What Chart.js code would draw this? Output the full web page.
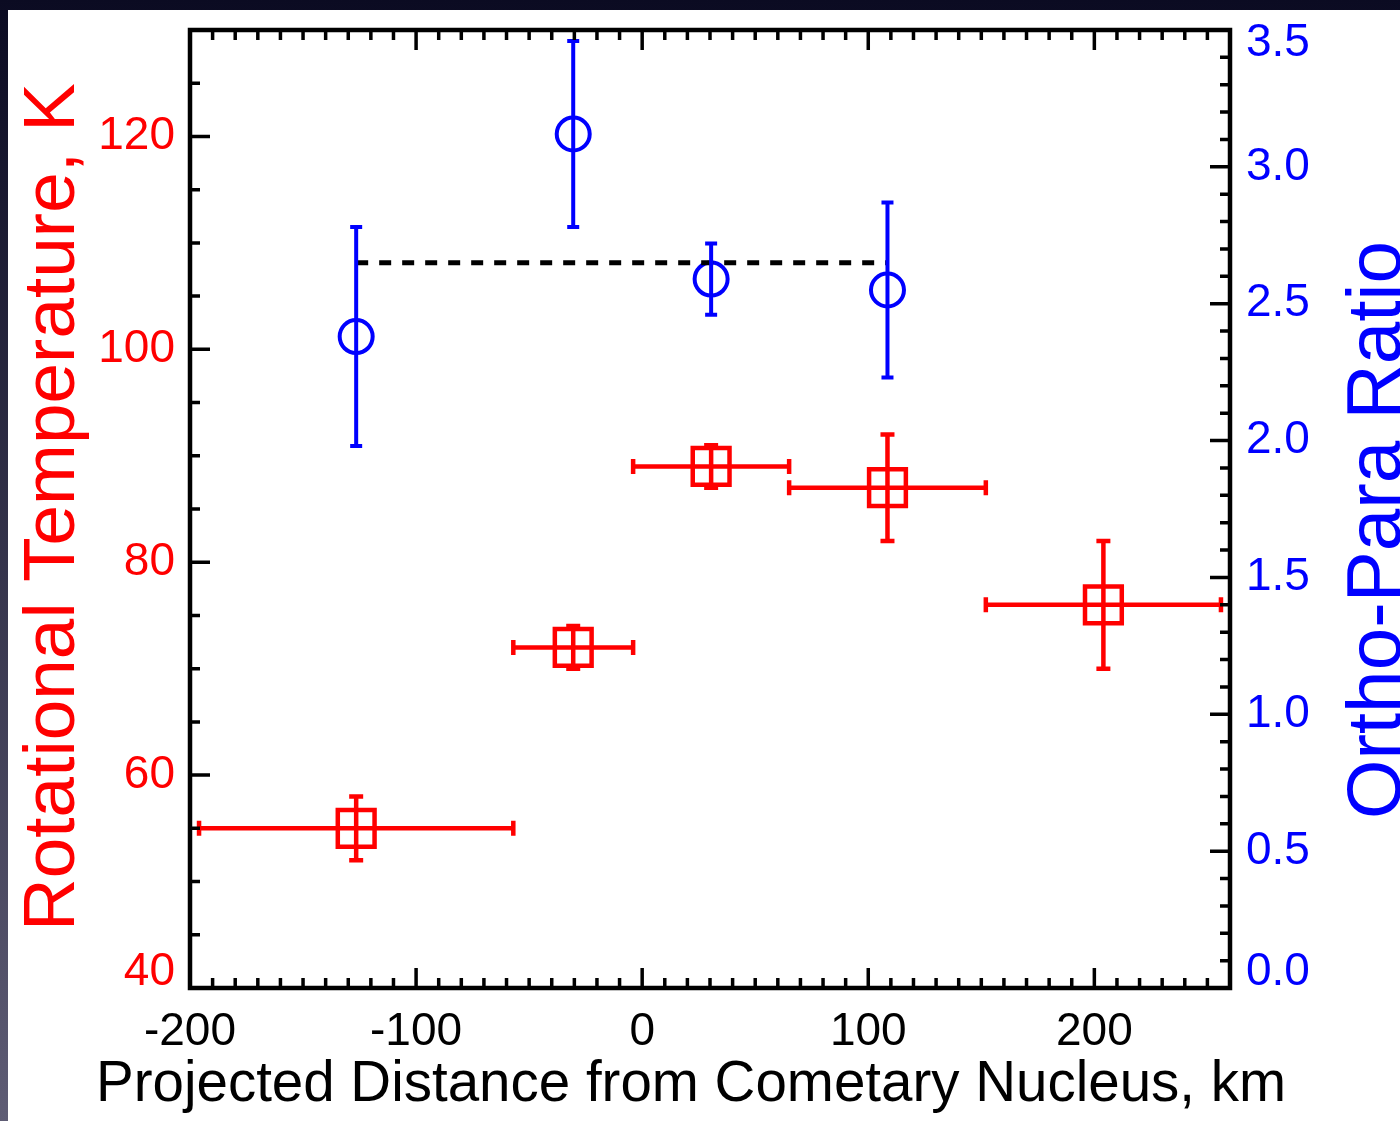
<!DOCTYPE html>
<html>
<head>
<meta charset="utf-8">
<script src="https://cdn.jsdelivr.net/npm/chart.js"></script>
<style>
html, body {
margin:0;
width:1400px;
height:1121px;
overflow:hidden;
background:linear-gradient(#0b0b22, #5e5c74);
}
#wrap {
position:absolute;
left:8px;
top:10px;
width:1392px;
height:1111px;
background:#fff;
}
canvas { display:block; }
</style>
</head>
<body>
<div id="wrap"><canvas id="chart" width="1392" height="1111"></canvas></div>
<script>
// red squares: rotational temperature in each distance bin
const binLow = [-196, -57, -4, 65, 152];
const binHigh = [-57, -4, 65, 152, 256];
const distance = [-126.5, -30.5, 30.5, 108.5, 204];
const temperature = [55, 72, 89, 87, 76];
const temperatureErr = [3, 2, 2, 5, 6];

// blue circles: ortho-para ratio
const oprDistance = [-126.5, -30.5, 30.5, 108.5];
const opr = [2.38, 3.12, 2.59, 2.55];
const oprErr = [0.40, 0.34, 0.13, 0.32];

// dashed mean line
const meanDistance = [-126.5, 108.5];
const meanOpr = [2.65, 2.65];

// ticks
const xTicks = [-200, -100, 0, 100, 200];
const leftTicks = [40, 60, 80, 100, 120];
const rightTicks = [0, 0.5, 1.0, 1.5, 2.0, 2.5, 3.0, 3.5];
const xMinor = 10;
const leftMinor = 5;
const rightMinor = 0.1;

const FONT = "'Liberation Sans', Arial, Helvetica, sans-serif";

function setTicks(list){
return scale => { scale.ticks = list.map(v => ({value:v})); };
}

function fixSize(key, size){
return s => {
s[key] = size;
s.paddingTop = 0; s.paddingBottom = 0;
s.paddingLeft = 0; s.paddingRight = 0;
};
}

const errorBars = {
id:"errorBars",
afterDatasetsDraw(chart){
const ctx = chart.ctx;
const x = chart.scales.x;
const yl = chart.scales.y;
const yr = chart.scales.y2;
ctx.save();
ctx.lineCap = "butt";

ctx.strokeStyle = "#ff0000";
ctx.lineWidth = 4.5;
distance.forEach((d, i) => {
const px = x.getPixelForValue(d);
const py = yl.getPixelForValue(temperature[i]);
const x0 = x.getPixelForValue(binLow[i]);
const x1 = x.getPixelForValue(binHigh[i]);
const y0 = yl.getPixelForValue(temperature[i] - temperatureErr[i]);
const y1 = yl.getPixelForValue(temperature[i] + temperatureErr[i]);
ctx.beginPath();
ctx.moveTo(x0, py); ctx.lineTo(x1, py);
ctx.moveTo(x0, py - 7.5); ctx.lineTo(x0, py + 7.5);
ctx.moveTo(x1, py - 7.5); ctx.lineTo(x1, py + 7.5);
ctx.moveTo(px, y0); ctx.lineTo(px, y1);
ctx.moveTo(px - 7, y0); ctx.lineTo(px + 7, y0);
ctx.moveTo(px - 7, y1); ctx.lineTo(px + 7, y1);
ctx.stroke();
});

ctx.strokeStyle = "#0000ff";
ctx.lineWidth = 4;
oprDistance.forEach((d, i) => {
const px = x.getPixelForValue(d);
const y0 = yr.getPixelForValue(opr[i] - oprErr[i]);
const y1 = yr.getPixelForValue(opr[i] + oprErr[i]);
ctx.beginPath();
ctx.moveTo(px, y0); ctx.lineTo(px, y1);
ctx.moveTo(px - 6, y0); ctx.lineTo(px + 6, y0);
ctx.moveTo(px - 6, y1); ctx.lineTo(px + 6, y1);
ctx.stroke();
});
ctx.restore();
}
};

const frame = {
id:"frame",
afterDraw(chart){
const ctx = chart.ctx;
const a = chart.chartArea;
const x = chart.scales.x;
const yl = chart.scales.y;
const yr = chart.scales.y2;
ctx.save();
ctx.strokeStyle = "#000";
ctx.lineWidth = 3.5;
ctx.beginPath();
for(let v = x.min; v <= x.max + 1e-9; v += xMinor){
const px = x.getPixelForValue(v);
const len = xTicks.includes(v) ? 20 : 10;
ctx.moveTo(px, a.bottom); ctx.lineTo(px, a.bottom - len);
ctx.moveTo(px, a.top); ctx.lineTo(px, a.top + len);
}
for(let v = yl.min; v <= yl.max + 1e-9; v += leftMinor){
const py = yl.getPixelForValue(v);
const len = leftTicks.includes(v) ? 20 : 10;
ctx.moveTo(a.left, py); ctx.lineTo(a.left + len, py);
}
for(let k = 0; k <= Math.round((yr.max - yr.min) / rightMinor); k++){
const v = Math.round((yr.min + k * rightMinor) * 10) / 10;
const py = yr.getPixelForValue(v);
const len = rightTicks.includes(v) ? 20 : 10;
ctx.moveTo(a.right, py); ctx.lineTo(a.right - len, py);
}
ctx.stroke();

ctx.lineWidth = 4.5;
ctx.strokeRect(a.left, a.top, a.right - a.left, a.bottom - a.top);

const midY = (a.top + a.bottom) / 2;
ctx.textAlign = "center";
ctx.textBaseline = "alphabetic";

ctx.fillStyle = "#ff0000";
ctx.font = "73px " + FONT;
ctx.save();
ctx.translate(a.left - 116, midY - 2);
ctx.rotate(-Math.PI / 2);
ctx.fillText("Rotational Temperature, K", 0, 0);
ctx.restore();

ctx.fillStyle = "#0000ff";
ctx.font = "76.5px " + FONT;
ctx.save();
ctx.translate(a.right + 170, midY + 21);
ctx.rotate(-Math.PI / 2);
ctx.fillText("Ortho-Para Ratio", 0, 0);
ctx.restore();

ctx.fillStyle = "#000";
ctx.font = "56.5px " + FONT;
ctx.fillText("Projected Distance from Cometary Nucleus, km", 683, a.bottom + 113);
ctx.restore();
}
};

function edgeFont(shift){
return ctx => {
const v = ctx.tick ? ctx.tick.value : null;
if(shift[v] !== undefined){
return {family:FONT, size:46, lineHeight:shift[v] * 2 / 46};
}
return {family:FONT, size:46};
};
}

new Chart(document.getElementById("chart"), {
type:"scatter",
data:{
datasets:[
{
label:"Mean OPR",
type:"line",
data:meanDistance.map((d, i) => ({x:d, y:meanOpr[i]})),
yAxisID:"y2",
borderColor:"#000",
borderWidth:5,
borderDash:[12, 11],
pointRadius:0,
fill:false
},
{
label:"Ortho-Para Ratio",
data:oprDistance.map((d, i) => ({x:d, y:opr[i]})),
yAxisID:"y2",
pointStyle:"circle",
pointRadius:16.5,
borderWidth:4,
borderColor:"#0000ff",
backgroundColor:"rgba(0,0,0,0)"
},
{
label:"Rotational Temperature",
data:distance.map((d, i) => ({x:d, y:temperature[i]})),
yAxisID:"y",
pointStyle:"rect",
pointRadius:26,
borderWidth:4.5,
borderColor:"#ff0000",
backgroundColor:"rgba(0,0,0,0)"
}
]
},
options:{
responsive:false,
animation:false,
devicePixelRatio:1,
layout:{autoPadding:false, padding:{top:20, left:0, right:0, bottom:0}},
plugins:{legend:{display:false}, tooltip:{enabled:false}},
scales:{
x:{
type:"linear",
position:"bottom",
min:-200,
max:260,
afterBuildTicks:setTicks(xTicks),
afterFit:fixSize("height", 133),
grid:{display:false, drawTicks:false},
border:{display:false},
ticks:{color:"#000", font:{family:FONT, size:46}, padding:17, maxRotation:0}
},
y:{
type:"linear",
position:"left",
min:40,
max:130,
afterBuildTicks:setTicks(leftTicks),
afterFit:fixSize("width", 182),
grid:{display:false, drawTicks:false},
border:{display:false},
ticks:{
color:"#ff0000",
padding:15,
font:edgeFont({40:16}),
callback:v => v === 40 ? ["40", ""] : String(v)
}
},
y2:{
type:"linear",
position:"right",
min:0,
max:3.5,
afterBuildTicks:setTicks(rightTicks),
afterFit:fixSize("width", 170),
grid:{display:false, drawTicks:false},
border:{display:false},
ticks:{
color:"#0000ff",
padding:16,
font:edgeFont({0:16, 3.5:13}),
callback:v => v === 0 ? ["0.0", ""] : v === 3.5 ? ["", "3.5"] : v.toFixed(1)
}
}
}
},
plugins:[errorBars, frame]
});
</script>
</body>
</html>
